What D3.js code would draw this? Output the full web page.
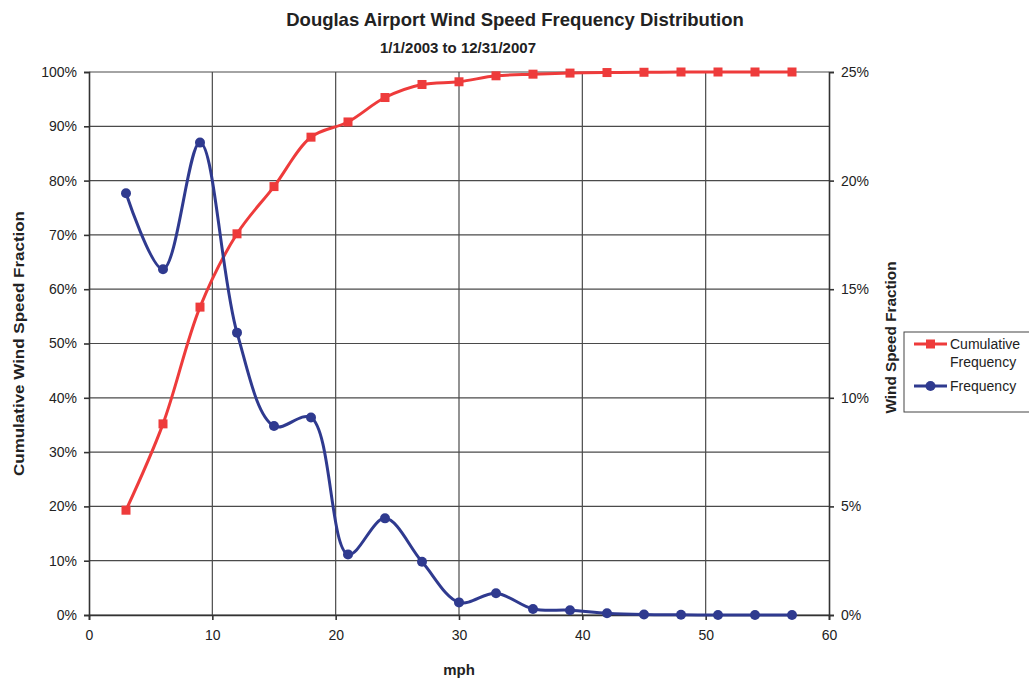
<!DOCTYPE html>
<html>
<head>
<meta charset="utf-8">
<script src="https://cdn.jsdelivr.net/npm/d3@7"></script>
<style>
  body { margin: 0; background: #fff; }
  text { font-family: Arial, "Liberation Sans", sans-serif; fill: #222; }
</style>
</head>
<body>
<div id="chart"></div>
<script>
const windSpeeds = [3, 6, 9, 12, 15, 18, 21, 24, 27, 30, 33, 36, 39, 42, 45, 48, 51, 54, 57];
const cumulativeFreq = [0.193, 0.352, 0.567, 0.702, 0.789, 0.880, 0.908, 0.953, 0.977, 0.982, 0.993, 0.996, 0.998, 0.999, 0.9995, 1.0, 1.0, 1.0, 1.0];
const frequency = [0.1942, 0.1592, 0.2175, 0.1300, 0.0870, 0.0909, 0.0279, 0.0445, 0.0245, 0.0058, 0.0100, 0.0028, 0.0022, 0.0008, 0.0002, 0.0001, 0, 0, 0];
const xTicks = [0, 10, 20, 30, 40, 50, 60];
const leftTicks = [0, .1, .2, .3, .4, .5, .6, .7, .8, .9, 1];
const rightTicks = [0, .05, .1, .15, .2, .25];

const width = 1029, height = 680;
const margin = {left: 89, right: 200, top: 72, bottom: 65};
const plotW = width - margin.left - margin.right;
const plotH = height - margin.top - margin.bottom;

const redColor = "#ee3b3b";
const blueColor = "#2f3a8f";
const gridColor = "#4a4a4a";

const svg = d3.select("#chart").append("svg")
    .attr("width", width)
    .attr("height", height);

const x = d3.scaleLinear().domain([0, 60]).range([margin.left, margin.left + plotW]);
const yLeft = d3.scaleLinear().domain([0, 1]).range([margin.top + plotH, margin.top]);
const yRight = d3.scaleLinear().domain([0, 0.25]).range([margin.top + plotH, margin.top]);

// grid lines
svg.append("g").selectAll("line.h")
    .data(leftTicks)
    .enter().append("line")
    .attr("x1", margin.left)
    .attr("x2", margin.left + plotW)
    .attr("y1", d => yLeft(d))
    .attr("y2", d => yLeft(d))
    .attr("stroke", gridColor)
    .attr("stroke-width", 1.2);

svg.append("g").selectAll("line.v")
    .data(xTicks.slice(1, -1))
    .enter().append("line")
    .attr("x1", d => x(d))
    .attr("x2", d => x(d))
    .attr("y1", margin.top)
    .attr("y2", margin.top + plotH)
    .attr("stroke", gridColor)
    .attr("stroke-width", 1.2);

// axes
const fmtPct = d3.format(".0%");

svg.append("g")
    .attr("transform", `translate(0,${margin.top + plotH})`)
    .call(d3.axisBottom(x).tickValues(xTicks).tickSize(5).tickPadding(10))
    .call(g => g.selectAll("text").attr("font-size", 14).attr("fill", "#222"));

svg.append("g")
    .attr("transform", `translate(${margin.left},0)`)
    .call(d3.axisLeft(yLeft).tickValues(leftTicks).tickFormat(fmtPct).tickSize(5).tickPadding(7))
    .call(g => g.selectAll("text").attr("font-size", 14).attr("fill", "#222"));

svg.append("g")
    .attr("transform", `translate(${margin.left + plotW},0)`)
    .call(d3.axisRight(yRight).tickValues(rightTicks).tickFormat(fmtPct).tickSize(5).tickPadding(7))
    .call(g => g.selectAll("text").attr("font-size", 14).attr("fill", "#222"));

svg.selectAll(".domain, .tick line").attr("stroke", "#333").attr("stroke-width", 1.6);

// lines
const cumLine = d3.line()
    .x((d, i) => x(windSpeeds[i]))
    .y(d => yLeft(d))
    .curve(d3.curveCatmullRom.alpha(0.5));

const freqLine = d3.line()
    .x((d, i) => x(windSpeeds[i]))
    .y(d => yRight(d))
    .curve(d3.curveCatmullRom.alpha(0.5));

svg.append("path")
    .datum(cumulativeFreq)
    .attr("d", cumLine)
    .attr("fill", "none")
    .attr("stroke", redColor)
    .attr("stroke-width", 3);

svg.append("g").selectAll("rect")
    .data(cumulativeFreq)
    .enter().append("rect")
    .attr("x", (d, i) => x(windSpeeds[i]) - 4.5)
    .attr("y", d => yLeft(d) - 4.5)
    .attr("width", 9)
    .attr("height", 9)
    .attr("fill", redColor);

svg.append("path")
    .datum(frequency)
    .attr("d", freqLine)
    .attr("fill", "none")
    .attr("stroke", blueColor)
    .attr("stroke-width", 3);

svg.append("g").selectAll("circle")
    .data(frequency)
    .enter().append("circle")
    .attr("cx", (d, i) => x(windSpeeds[i]))
    .attr("cy", d => yRight(d))
    .attr("r", 5)
    .attr("fill", blueColor);

// titles
svg.append("text")
    .attr("x", 515).attr("y", 26)
    .attr("text-anchor", "middle")
    .attr("font-size", 18.5).attr("font-weight", "bold")
    .text("Douglas Airport Wind Speed Frequency Distribution");

svg.append("text")
    .attr("x", 458).attr("y", 53)
    .attr("text-anchor", "middle")
    .attr("font-size", 15).attr("font-weight", "bold")
    .text("1/1/2003 to 12/31/2007");

svg.append("text")
    .attr("x", (margin.left + plotW / 2)).attr("y", 675)
    .attr("text-anchor", "middle")
    .attr("font-size", 15).attr("font-weight", "bold")
    .text("mph");

svg.append("text")
    .attr("transform", `translate(24,${margin.top + plotH / 2}) rotate(-90)`)
    .attr("text-anchor", "middle")
    .attr("font-size", 15).attr("font-weight", "bold")
    .attr("textLength", 265).attr("lengthAdjust", "spacingAndGlyphs")
    .text("Cumulative Wind Speed Fraction");

svg.append("text")
    .attr("transform", `translate(896,${margin.top + plotH / 2 - 6}) rotate(-90)`)
    .attr("text-anchor", "middle")
    .attr("font-size", 15).attr("font-weight", "bold")
    .attr("textLength", 152).attr("lengthAdjust", "spacingAndGlyphs")
    .text("Wind Speed Fraction");

// legend
const legend = svg.append("g").attr("transform", "translate(904,332)");
legend.append("rect")
    .attr("width", 140).attr("height", 80)
    .attr("fill", "#fff")
    .attr("stroke", "#444").attr("stroke-width", 1);

legend.append("line")
    .attr("x1", 10).attr("x2", 43).attr("y1", 12).attr("y2", 12)
    .attr("stroke", redColor).attr("stroke-width", 3);
legend.append("rect")
    .attr("x", 22).attr("y", 7.5).attr("width", 9).attr("height", 9)
    .attr("fill", redColor);
legend.append("text").attr("x", 46).attr("y", 17).attr("font-size", 14).text("Cumulative");
legend.append("text").attr("x", 46).attr("y", 35).attr("font-size", 14).text("Frequency");

legend.append("line")
    .attr("x1", 10).attr("x2", 43).attr("y1", 54).attr("y2", 54)
    .attr("stroke", blueColor).attr("stroke-width", 3);
legend.append("circle")
    .attr("cx", 26.5).attr("cy", 54).attr("r", 5)
    .attr("fill", blueColor);
legend.append("text").attr("x", 46).attr("y", 59).attr("font-size", 14).text("Frequency");
</script>
</body>
</html>
